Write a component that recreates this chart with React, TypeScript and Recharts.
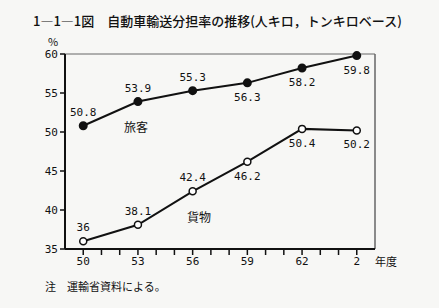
import React from 'react'
import {
  LineChart,
  Line,
  XAxis,
  YAxis,
  ReferenceLine,
  LabelList,
} from 'recharts'

// 年度 (昭和50〜平成2)
const years = [50, 53, 56, 59, 62, 65]
const passenger = [50.8, 53.9, 55.3, 56.3, 58.2, 59.8]
const freight = [36, 38.1, 42.4, 46.2, 50.4, 50.2]
const passengerLabelPos = ['top', 'top', 'top', 'bottom', 'bottom', 'bottom']
const freightLabelPos = ['top', 'top', 'top', 'bottom', 'bottom', 'bottom']

const yearTicks = [50, 51, 52, 53, 54, 55, 56, 57, 58, 59, 60, 61, 62, 63, 64, 65]
const yearLabels: Record<number, string> = { 50: '50', 53: '53', 56: '56', 59: '59', 62: '62', 65: '2' }
const yTicks = [35, 40, 45, 50, 55, 60]

const data = years.map((y, i) => ({ year: y, passenger: passenger[i], freight: freight[i] }))

const MONO = '"DejaVu Sans Mono", monospace'
const JP = '"Noto Sans CJK JP", sans-serif'

const makeLabel = (positions: string[]) => (props: any) => {
  const { x, y, value, index } = props
  const below = positions[index] === 'bottom'
  return (
    <text
      x={x}
      y={below ? y + 18 : y - 10}
      textAnchor="middle"
      fontFamily={MONO}
      fontSize={11}
      fill="#111"
    >
      {value}
    </text>
  )
}

export default function App() {
  return (
    <div style={{ position: 'absolute', left: 0, top: 0, width: 439, height: 308, background: '#f7f7f5' }}>
      <div style={{ position: 'absolute', left: 33, top: 11, fontFamily: JP, fontSize: 13, fontWeight: 500, color: '#111', whiteSpace: 'nowrap' }}>
        1―1―1図　自動車輸送分担率の推移(人キロ，トンキロベース)
      </div>
      <div style={{ position: 'absolute', left: 48, top: 33, fontFamily: JP, fontSize: 11, color: '#111' }}>%</div>
      <div style={{ position: 'absolute', left: 375, top: 253, fontFamily: JP, fontSize: 11, color: '#111' }}>年度</div>
      <div style={{ position: 'absolute', left: 45, top: 278, fontFamily: JP, fontSize: 11, color: '#111' }}>注　運輸省資料による。</div>
      <div style={{ position: 'absolute', left: 124, top: 118, fontFamily: JP, fontSize: 12, color: '#111' }}>旅客</div>
      <div style={{ position: 'absolute', left: 187, top: 208, fontFamily: JP, fontSize: 12, color: '#111' }}>貨物</div>
      <LineChart width={439} height={308} data={data} margin={{ top: 54, right: 64, bottom: 29, left: 5 }}>
        <XAxis
          dataKey="year"
          type="number"
          domain={[49, 66]}
          ticks={yearTicks}
          interval={0}
          tickFormatter={(v: number) => yearLabels[v] ?? ''}
          tickSize={6}
          tickLine={{ stroke: '#111', strokeWidth: 1.5 }}
          axisLine={{ stroke: '#111', strokeWidth: 2 }}
          tick={{ fill: '#111', fontSize: 11, fontFamily: MONO }}
          height={30}
        />
        <YAxis
          type="number"
          domain={[35, 60]}
          ticks={yTicks}
          interval={0}
          width={60}
          tickSize={5}
          tickLine={{ stroke: '#111', strokeWidth: 1.5 }}
          axisLine={{ stroke: '#111', strokeWidth: 2 }}
          tick={{ fill: '#111', fontSize: 11, fontFamily: MONO }}
        />
        <ReferenceLine y={60} stroke="#666" strokeWidth={1} />
        <ReferenceLine x={66} stroke="#666" strokeWidth={1.5} />
        <Line
          dataKey="passenger"
          stroke="#111"
          strokeWidth={2}
          dot={{ r: 3.5, fill: '#111', stroke: '#111' }}
          isAnimationActive={false}
        >
          <LabelList dataKey="passenger" content={makeLabel(passengerLabelPos)} />
        </Line>
        <Line
          dataKey="freight"
          stroke="#111"
          strokeWidth={2}
          dot={{ r: 3.5, fill: '#fff', stroke: '#111', strokeWidth: 1.5 }}
          isAnimationActive={false}
        >
          <LabelList dataKey="freight" content={makeLabel(freightLabelPos)} />
        </Line>
      </LineChart>
    </div>
  )
}
